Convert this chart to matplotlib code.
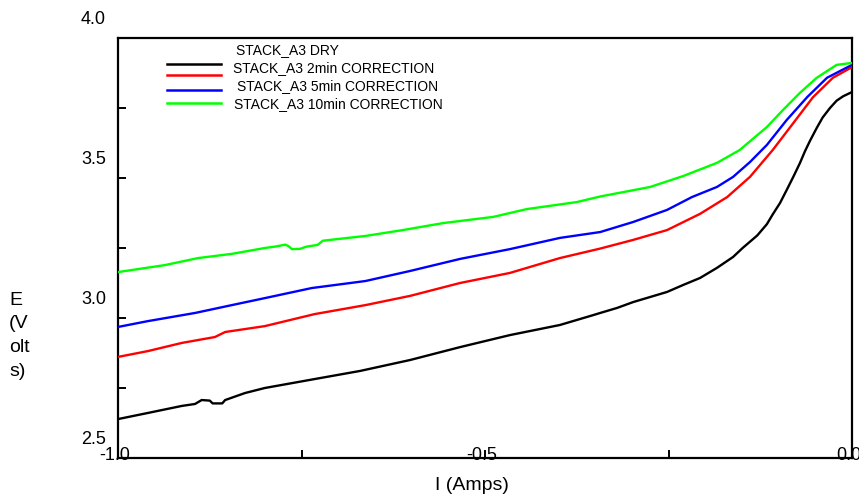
import matplotlib
matplotlib.use("Agg")
import matplotlib.pyplot as plt
from matplotlib.transforms import offset_copy

plt.rcParams['font.family'] = ['Liberation Sans', 'DejaVu Sans']

# ---- data ----
x_dry = [-1.0, -0.959, -0.913, -0.895, -0.886, -0.875, -0.871, -0.858, -0.854, -0.827, -0.800,
         -0.732, -0.670, -0.602, -0.534, -0.466, -0.398, -0.353, -0.343, -0.320, -0.298,
         -0.275, -0.252, -0.230, -0.207, -0.184, -0.162, -0.149, -0.129, -0.116, -0.108,
         -0.098, -0.089, -0.080, -0.071, -0.064, -0.057, -0.048, -0.040, -0.030, -0.021,
         -0.012, 0.0]
e_dry = [2.639, 2.661, 2.686, 2.693, 2.707, 2.705, 2.695, 2.695, 2.707, 2.732, 2.750,
         2.782, 2.811, 2.850, 2.896, 2.939, 2.975, 3.010, 3.018, 3.036, 3.057,
         3.075, 3.093, 3.118, 3.143, 3.179, 3.218, 3.250, 3.295, 3.335, 3.370,
         3.411, 3.457, 3.504, 3.553, 3.596, 3.634, 3.679, 3.716, 3.750, 3.776,
         3.792, 3.807]

x_2min = [-1.0, -0.959, -0.913, -0.868, -0.854, -0.800, -0.732, -0.663, -0.602, -0.534,
          -0.466, -0.398, -0.343, -0.298, -0.252, -0.207, -0.170, -0.139, -0.108,
          -0.080, -0.053, -0.026, 0.0]
e_2min = [2.861, 2.882, 2.911, 2.932, 2.950, 2.971, 3.014, 3.046, 3.079, 3.125,
          3.161, 3.214, 3.248, 3.279, 3.314, 3.372, 3.432, 3.504, 3.600,
          3.696, 3.789, 3.858, 3.896]

x_5min = [-1.0, -0.959, -0.895, -0.845, -0.800, -0.736, -0.663, -0.602, -0.534, -0.466,
          -0.398, -0.343, -0.298, -0.252, -0.218, -0.184, -0.162, -0.139, -0.116,
          -0.089, -0.061, -0.034, 0.0]
e_5min = [2.968, 2.989, 3.018, 3.046, 3.071, 3.107, 3.132, 3.168, 3.211, 3.246,
          3.286, 3.307, 3.343, 3.386, 3.432, 3.468, 3.504, 3.557, 3.618,
          3.707, 3.789, 3.858, 3.904]

x_10min = [-1.0, -0.936, -0.891, -0.845, -0.800, -0.786, -0.772, -0.768, -0.763, -0.752,
           -0.743, -0.728, -0.721, -0.663, -0.612, -0.557, -0.489, -0.443, -0.375,
           -0.343, -0.275, -0.230, -0.184, -0.153, -0.116, -0.094, -0.071, -0.048,
           -0.021, 0.0]
e_10min = [3.164, 3.189, 3.214, 3.229, 3.250, 3.255, 3.262, 3.257, 3.246, 3.247,
           3.255, 3.261, 3.276, 3.293, 3.314, 3.339, 3.361, 3.389, 3.414,
           3.434, 3.468, 3.507, 3.554, 3.600, 3.682, 3.743, 3.804, 3.858,
           3.904, 3.911]

series = [
    ("STACK_A3 DRY", x_dry, e_dry, "#000000"),
    ("STACK_A3 2min CORRECTION", x_2min, e_2min, "#ff0000"),
    ("STACK_A3 5min CORRECTION", x_5min, e_5min, "#0000ff"),
    ("STACK_A3 10min CORRECTION", x_10min, e_10min, "#00ff00"),
]

y_ticks = [2.5, 2.75, 3.0, 3.25, 3.5, 3.75, 4.0]
y_labels = {2.5: "2.5", 3.0: "3.0", 3.5: "3.5", 4.0: "4.0"}
x_ticks = [-1.0, -0.75, -0.5, -0.25, 0.0]
x_labels = {-1.0: "-1.0", -0.5: "-0.5", 0.0: "0.0"}

W, H = 859, 498
fig = plt.figure(figsize=(W / 100, H / 100), dpi=100)
ax = fig.add_axes([118 / W, (H - 458) / H, 734 / W, 420 / H])

for name, xs, ys, col in series:
    ax.plot(xs, ys, color=col, lw=1.7)

ax.set_xlim(-1.0, 0.0)
ax.set_ylim(2.5, 4.0)
for s in ax.spines.values():
    s.set_linewidth(1.6)
    s.set_zorder(1)

ax.set_yticks(y_ticks)
ax.set_xticks(x_ticks)
ax.tick_params(axis='both', direction='in', length=6, width=1.4,
               labelleft=False, labelbottom=False)
ax.tick_params(axis='y', left=True, right=False)
ax.tick_params(axis='x', bottom=True, top=False)

# y tick labels, drawn above their ticks as in the reference
for v, t in y_labels.items():
    tr = offset_copy(ax.get_yaxis_transform(), fig=fig, x=-12, y=14, units='dots')
    ax.text(0, v, t, transform=tr, ha='right', va='baseline', fontsize=13, clip_on=False)

# x tick labels, sitting on the axis line
for v, t in x_labels.items():
    tr = offset_copy(ax.get_xaxis_transform(), fig=fig, x=-3, y=-2, units='dots')
    ax.text(v, 0, t, transform=tr, ha='center', va='baseline', fontsize=13,
            clip_on=False, zorder=0)

# axis labels
fig.text(472 / W, 1 - 485 / H, "I (Amps)", ha='center', va='center', fontsize=14)
fig.text(9 / W, 1 - 292 / H, "E\n(V\nolt\ns)", ha='left', va='top', fontsize=14,
         linespacing=1.5)

# legend (manual, matching the reference's offset layout)
text_pos = [(236, 54), (233, 72), (237, 90), (234, 108)]
line_y = [64, 75, 90, 103]
for (name, xs, ys, col), (tx, ty) in zip(series, text_pos):
    fig.text(tx / W, 1 - ty / H, name, ha='left', va='baseline', fontsize=10)
for (name, xs, ys, col), ly in zip(series, line_y):
    fig.add_artist(plt.Line2D([167 / W, 221 / W], [1 - ly / H, 1 - ly / H],
                              color=col, lw=1.8, transform=fig.transFigure))

fig.savefig("out.png", dpi=100)
